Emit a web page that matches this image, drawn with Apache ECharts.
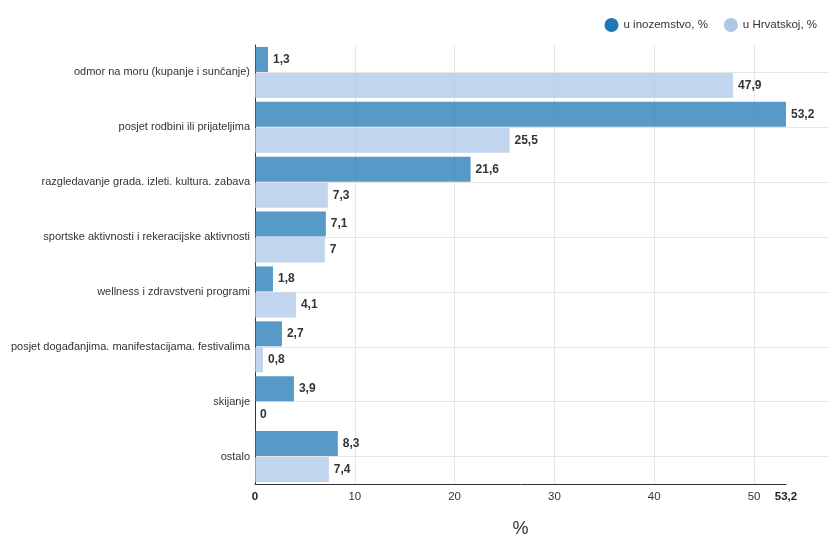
<!DOCTYPE html>
<html><head><meta charset="utf-8">
<script src="https://cdn.jsdelivr.net/npm/echarts@6/dist/echarts.min.js"></script>
<style>html,body{margin:0;padding:0;background:#fff}#c{width:829px;height:538px}</style>
</head><body><div id="c"></div>
<script>
const categories = [
  'odmor na moru (kupanje i sunčanje)',
  'posjet rodbini ili prijateljima',
  'razgledavanje grada. izleti. kultura. zabava',
  'sportske aktivnosti i rekeracijske aktivnosti',
  'wellness i zdravstveni programi',
  'posjet događanjima. manifestacijama. festivalima',
  'skijanje',
  'ostalo'
];
const seriesNames = ['u inozemstvo, %', 'u Hrvatskoj, %'];
const inozemstvo = [1.3, 53.2, 21.6, 7.1, 1.8, 2.7, 3.9, 8.3];
const hrvatskoj = [47.9, 25.5, 7.3, 7, 4.1, 0.8, 0, 7.4];
const axisMax = 53.2;
const axisInterval = 10;

const FONT = '"Liberation Sans", Arial, sans-serif';
const fmt = v => String(v).replace('.', ',');

const chart = echarts.init(document.getElementById('c'), null, {renderer: 'canvas'});
const lbl = {show: true, position: 'right', distance: 5, color: '#333', fontWeight: 'bold', fontSize: 12, fontFamily: FONT, formatter: p => fmt(p.value)};
chart.setOption({
  animation: false,
  legend: {
    right: 7, top: 13, itemWidth: 14, itemHeight: 14, itemGap: 16, icon: 'circle',
    textStyle: {fontFamily: FONT, fontSize: 11.5, color: '#333'},
    data: [
      {name: seriesNames[0], itemStyle: {color: '#1f77b4'}},
      {name: seriesNames[1], itemStyle: {color: '#aec7e8'}}
    ]
  },
  grid: [
    {left: 255, right: 43, top: 45, bottom: 54, containLabel: false, outerBoundsMode: 'none'},
    {left: 255, right: 0, top: 45, bottom: 54, containLabel: false, outerBoundsMode: 'none', z: -1}
  ],
  xAxis: [{
    type: 'value', gridIndex: 0, min: 0, max: axisMax, interval: axisInterval,
    name: '%', nameLocation: 'middle', nameGap: 36,
    nameTextStyle: {fontFamily: FONT, fontSize: 18, color: '#333'},
    axisLine: {show: true, lineStyle: {color: '#333', width: 1}},
    axisTick: {show: false},
    splitLine: {show: true, showMinLine: false, showMaxLine: false, lineStyle: {color: '#e6e6e6'}},
    axisLabel: {
      fontFamily: FONT, fontSize: 11.5, color: '#333', margin: 7,
      formatter: v => (v === 0 || v === axisMax) ? '{b|' + fmt(v) + '}' : fmt(v),
      rich: {b: {fontWeight: 'bold', fontFamily: FONT, fontSize: 11.5, color: '#222'}}
    }
  }, {
    type: 'value', gridIndex: 1, min: 0, max: 1, show: false
  }],
  yAxis: [{
    type: 'category', gridIndex: 0, inverse: true, data: categories,
    axisLine: {show: true, lineStyle: {color: '#333', width: 1}},
    axisTick: {show: false},
    splitLine: {show: false},
    axisLabel: {fontFamily: FONT, fontSize: 11, color: '#333', margin: 5}
  }, {
    type: 'category', gridIndex: 1, inverse: true, data: categories,
    axisLine: {show: false}, axisTick: {show: false}, axisLabel: {show: false},
    splitLine: {show: true, alignWithLabel: true, lineStyle: {color: '#e6e6e6'}}, z: -1
  }],
  series: [
    {name: seriesNames[0], type: 'bar', data: inozemstvo, barWidth: 25, barGap: '4%',
     itemStyle: {color: 'rgba(31,119,180,0.75)'}, label: lbl},
    {name: seriesNames[1], type: 'bar', data: hrvatskoj, barWidth: 25,
     itemStyle: {color: 'rgba(174,199,232,0.75)'}, label: lbl}
  ]
});
</script></body></html>
